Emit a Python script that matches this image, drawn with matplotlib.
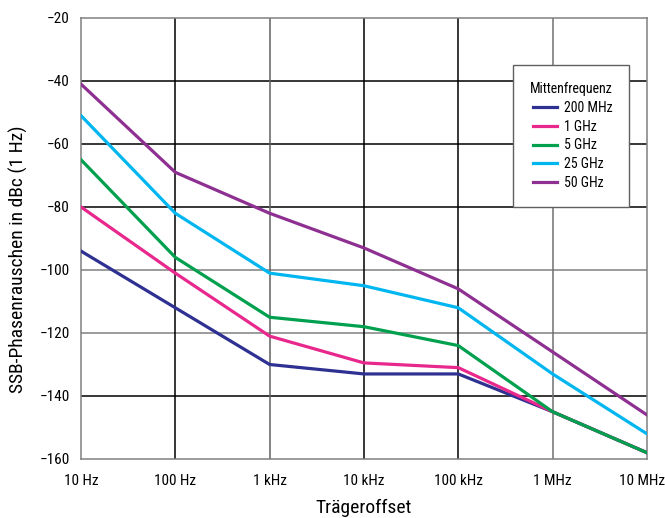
import matplotlib
matplotlib.use("Agg")
import matplotlib.pyplot as plt
import matplotlib.transforms as mtransforms
from matplotlib import font_manager

names = {f.name for f in font_manager.fontManager.ttflist}
cands = ["Roboto Condensed", "Liberation Sans Narrow", "Open Sans Condensed", "Arial Narrow"]
fam = [c for c in cands if c in names]
if fam:
    plt.rcParams['font.family'] = fam[:1] + ["DejaVu Sans"]
else:
    plt.rcParams['font.family'] = ["DejaVu Sans"]
    plt.rcParams['font.stretch'] = "condensed"

offsets = [10, 100, 1e3, 1e4, 1e5, 1e6, 1e7]
xlabels = ["10 Hz", "100 Hz", "1 kHz", "10 kHz", "100 kHz", "1 MHz", "10 MHz"]
s200mhz = [-94, -112, -130, -133, -133, -145, -158]
s1ghz = [-80, -101, -121, -129.5, -131, -145, -158]
s5ghz = [-65, -96, -115, -118, -124, -145, -158]
s25ghz = [-51, -82, -101, -105, -112, -133, -152]
s50ghz = [-41, -69, -82, -93, -106, -126, -146]
series_names = ["200 MHz", "1 GHz", "5 GHz", "25 GHz", "50 GHz"]
colors = ["#2e3192", "#e8288c", "#00a04e", "#00b6f0", "#8e3092"]
yticks = [-20, -40, -60, -80, -100, -120, -140, -160]

fig = plt.figure(figsize=(6.65, 5.18), dpi=100)
ax = fig.add_axes([0.1218, 0.1139, 0.851, 0.8514])
ax.set_xscale("log")
ax.set_xlim(10, 1e7)
ax.set_ylim(-160, -20)

# grid lines
hcol = {-40: "black", -60: "black", -80: "black", -100: "#808080", -120: "#808080", -140: "black"}
for y, c in hcol.items():
    ax.axhline(y, color=c, lw=1.1, zorder=1)
vcol = {100: "black", 1e3: "#606060", 1e4: "black", 1e5: "black", 1e6: "#707070"}
for x, c in vcol.items():
    ax.axvline(x, color=c, lw=1.1, zorder=1)
for sp in ax.spines.values():
    sp.set_color("#808080")
    sp.set_linewidth(1.1)

for data, name, c in zip([s200mhz, s1ghz, s5ghz, s25ghz, s50ghz], series_names, colors):
    ax.plot(offsets, data, color=c, lw=2.3, label=name, zorder=3, solid_joinstyle="miter")

ax.set_xticks(offsets)
ax.set_xticklabels(xlabels)
ax.minorticks_off()
ax.set_yticks(yticks)
ax.set_yticklabels(["\u2212%d" % abs(v) for v in yticks])
ax.tick_params(length=0, labelsize=11)
ax.tick_params(axis="x", pad=10.5)
ax.tick_params(axis="y", pad=8)
last = ax.get_xticklabels()[-1]
last.set_transform(last.get_transform() + mtransforms.ScaledTranslation(-4.5 / 100, 0, fig.dpi_scale_trans))

ax.set_xlabel("Trägeroffset", fontsize=14, labelpad=8)
ax.set_ylabel("SSB-Phasenrauschen in dBc (1 Hz)", fontsize=14)
ax.yaxis.set_label_coords(-0.0936, 0.453)

leg = ax.legend(title="Mittenfrequenz", loc="upper left", bbox_to_anchor=(0.763, 0.893),
                borderaxespad=0,
                fontsize=10, title_fontsize=10, frameon=True, fancybox=False,
                handlelength=1.7, handletextpad=0.5, labelspacing=0.35,
                borderpad=1.2, framealpha=1, alignment="right")
leg.get_frame().set_edgecolor("#606060")
leg.get_frame().set_linewidth(1.0)
leg.set_zorder(5)

fig.savefig("out.png", dpi=100)
